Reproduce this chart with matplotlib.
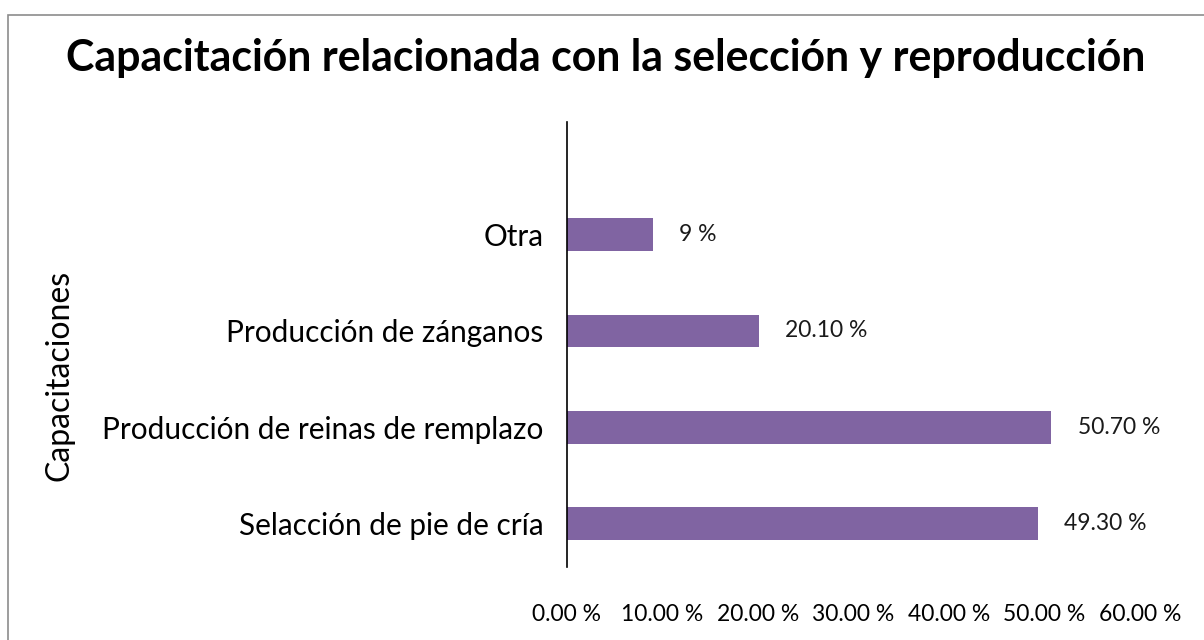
import matplotlib.pyplot as plt
from matplotlib.patches import Rectangle

plt.rcParams['font.family'] = ['Lato', 'DejaVu Sans']

# datos
categorias = ["Selacción de pie de cría", "Producción de reinas de remplazo",
              "Producción de zánganos", "Otra"]
valores = [49.3, 50.7, 20.1, 9.0]
etiquetas = ["49.30 %", "50.70 %", "20.10 %", "9 %"]
ticks_x = [0, 10, 20, 30, 40, 50, 60]
ticks_txt = ["0.00 %", "10.00 %", "20.00 %", "30.00 %", "40.00 %", "50.00 %", "60.00 %"]

fig = plt.figure(figsize=(12.04, 6.4), dpi=100)
ax = fig.add_axes([0.4709, 0.1141, 0.4759, 0.6953])

# marco gris del gráfico
fig.patches.append(Rectangle((8 / 1204, -0.1), 1.2, 1.1 - 15 / 640, transform=fig.transFigure,
                             fill=False, edgecolor='#8c8c8c', linewidth=1.2))

pos = range(len(categorias))
ax.barh(pos, valores, height=0.34, color='#8064A2')

for i, v in enumerate(valores):
    ax.annotate(etiquetas[i], (v, i), xytext=(19, 0), textcoords='offset points',
                va='center', ha='left', fontsize=16.5, color='#1a1a1a')

ax.set_xlim(0, 60)
ax.set_ylim(-0.45, 4.17)
ax.set_xticks(ticks_x)
ax.set_xticklabels(ticks_txt, fontsize=16.5)
ax.set_yticks(list(pos))
ax.set_yticklabels(categorias, fontsize=21.4)
ax.tick_params(axis='x', length=0, pad=27)
ax.tick_params(axis='y', length=0, pad=17)

for s in ['top', 'right', 'bottom']:
    ax.spines[s].set_visible(False)
ax.spines['left'].set_color('#000000')
ax.spines['left'].set_linewidth(1.2)

fig.text(0.0498, 0.414, "Capacitaciones", rotation=90, ha='center', va='center', fontsize=23)
fig.text(0.503, 0.91, "Capacitación relacionada con la selección y reproducción",
         ha='center', va='center', fontsize=30.9, fontweight='bold')

fig.savefig("out.png", dpi=100, facecolor='white')
